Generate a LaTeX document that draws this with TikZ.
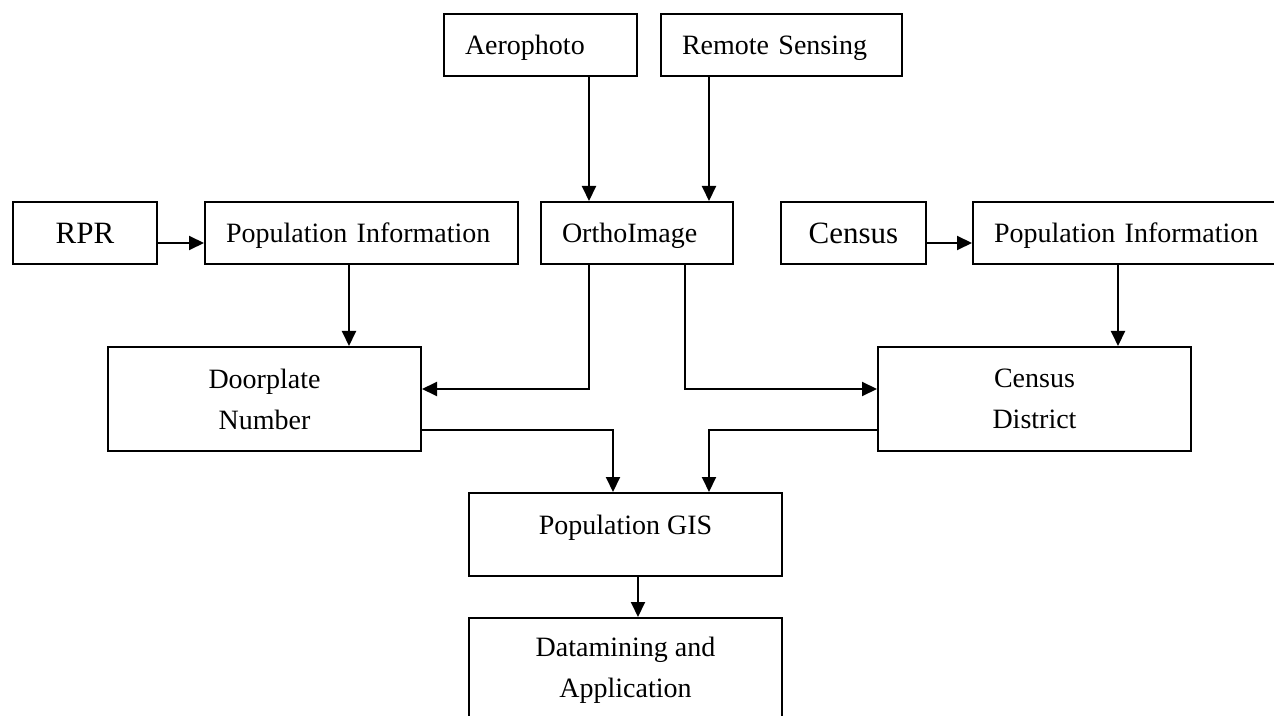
\documentclass[tikz,border=0pt]{standalone}
\usepackage{fontspec}
\setmainfont{Liberation Serif}
\usetikzlibrary{arrows.meta}

\begin{document}
\begin{tikzpicture}[
		x=0.5pt, y=-0.5pt,
		box/.style={draw, line width=1pt, inner sep=0pt, anchor=north west,
		font=\fontsize{14}{20.5}\selectfont},
		single/.style={box, minimum height=31pt, text depth=0pt},
		lefttext/.style={single, inner xsep=10.5pt, text width=#1, align=left},
		bigtext/.style={single, font=\fontsize{15.5}{18}\selectfont},
		double/.style={box, minimum width=156.5pt, minimum height=52pt, align=center},
		link/.style={line width=1pt, -{Triangle[length=7.5pt,width=7pt]}},
		]

		\def\narrow{75.5pt}
		\def\wide{135.5pt}

		\useasboundingbox (0,0) rectangle (1274,716);

		% sources
		\node[lefttext=\narrow]             (aero)      at (443,13)  {Aerophoto};
		\node[lefttext=99.5pt]              (remote)    at (660,13)  {Remote Sensing};
		\node[bigtext, minimum width=72pt]  (rpr)       at (12,201)  {RPR};
		\node[lefttext=\wide]               (popinfoa)  at (204,201) {Population Information};
		\node[lefttext=75pt]                (ortho)     at (540,201) {OrthoImage};
		\node[bigtext, minimum width=72.5pt] (census)   at (780,201) {Census};
		\node[lefttext=\wide]               (popinfob)  at (972,201) {Population Information};

		% results
		\node[double]                       (door)      at (107,346) {Doorplate\\Number};
		\node[double]                       (district)  at (877,346) {Census\\District};
		\node[box, minimum width=156.5pt, minimum height=41.5pt,
		text height=7pt, text depth=7pt]    (gis)       at (468,492) {Population GIS};
		\node[double]                       (mining)    at (468,617) {Datamining and\\Application};

		% connectors
		\draw[link] ([xshift=24.25pt]aero.south) -- ([xshift=24.25pt]aero.south |- ortho.north);
		\draw[link] ([xshift=-36.25pt]remote.south) -- ([xshift=-36.25pt]remote.south |- ortho.north);
		\draw[link] ([yshift=-5pt]rpr.east) -- ([yshift=-5pt]rpr.east -| popinfoa.west);
		\draw[link] ([yshift=-5pt]census.east) -- ([yshift=-5pt]census.east -| popinfob.west);
		\draw[link] ([xshift=-6.25pt]popinfoa.south) -- ([xshift=-6.25pt]popinfoa.south |- door.north);
		\draw[link] ([xshift=-5.75pt]popinfob.south) -- ([xshift=-5.75pt]popinfob.south |- district.north);
		\draw[link] ([xshift=-24pt]ortho.south) |- ([yshift=5pt]door.east);
		\draw[link] ([xshift=24pt]ortho.south) |- ([yshift=5pt]district.west);
		\draw[link] ([yshift=-15.5pt]door.east) -| ([xshift=-6.25pt]gis.north);
		\draw[link] ([yshift=-15.5pt]district.west) -| ([xshift=41.75pt]gis.north);
		\draw[link] ([xshift=6.25pt]gis.south) -- ([xshift=6.25pt]gis.south |- mining.north);

	\end{tikzpicture}
\end{document}
